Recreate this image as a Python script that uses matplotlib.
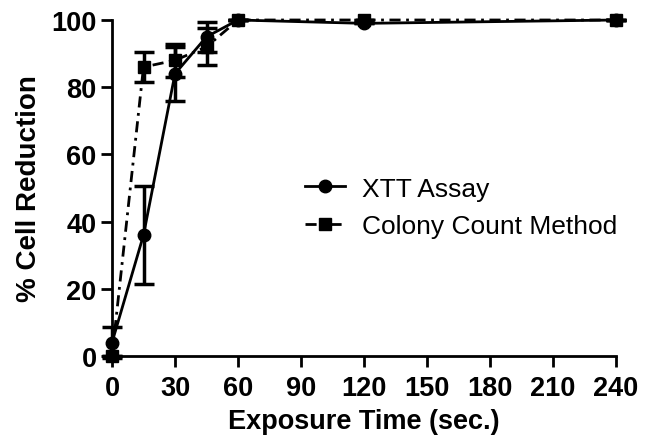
import matplotlib
matplotlib.use("Agg")
import matplotlib.pyplot as plt

time = [0, 15, 30, 45, 60, 120, 240]
xtt_mean = [4, 36, 84, 95, 100, 99, 100]
xtt_err = [4.5, 14.5, 8, 4.5, 0, 0, 0]
col_mean = [0, 86, 88, 92, 100, 100, 100]
col_err = [0, 4.5, 5, 5.5, 0, 0, 0]
xticks = [0, 30, 60, 90, 120, 150, 180, 210, 240]
yticks = [0, 20, 40, 60, 80, 100]

plt.rcParams['font.family'] = ['Liberation Sans', 'DejaVu Sans']

fig = plt.figure(figsize=(6.5, 4.39), dpi=100)
ax = fig.add_axes([112/650, 1-357/439, (616-112)/650, (357-21)/439])

c1 = ax.errorbar(time, xtt_mean, yerr=xtt_err, color='black', lw=2, marker='o', ms=9,
                 capsize=7, capthick=2.5, elinewidth=2.5, ls='-', clip_on=False, zorder=3)
c2 = ax.errorbar(time, col_mean, yerr=col_err, color='black', lw=2, marker='s', ms=8,
                 capsize=7, capthick=2.5, elinewidth=2.5, ls=(0, (4, 2, 1, 2)), clip_on=False, zorder=3)

ax.set_xlim(0, 240)
ax.set_ylim(0, 100)
ax.set_xticks(xticks)
ax.set_yticks(yticks)
for s in ['top', 'right']:
    ax.spines[s].set_visible(False)
for s in ['left', 'bottom']:
    ax.spines[s].set_linewidth(2)
ax.tick_params(width=2, length=8, labelsize=19.5)
ax.tick_params(axis='x', pad=6)
ax.tick_params(axis='y', pad=3)
for lab in ax.get_xticklabels() + ax.get_yticklabels():
    lab.set_fontweight('bold')

ax.set_xlabel('Exposure Time (sec.)', fontsize=19.5, fontweight='bold', labelpad=5)
ax.set_ylabel('% Cell Reduction', fontsize=20, fontweight='bold', labelpad=7)

leg = ax.legend([c1[0], c2[0]], ['XTT Assay', 'Colony Count Method'],
                loc='center left', bbox_to_anchor=(0.383, 0.443), frameon=False, fontsize=19,
                handlelength=1.5, handletextpad=0.65, labelspacing=0.5, borderpad=0,
                borderaxespad=0)

fig.savefig('out.png', dpi=100)
